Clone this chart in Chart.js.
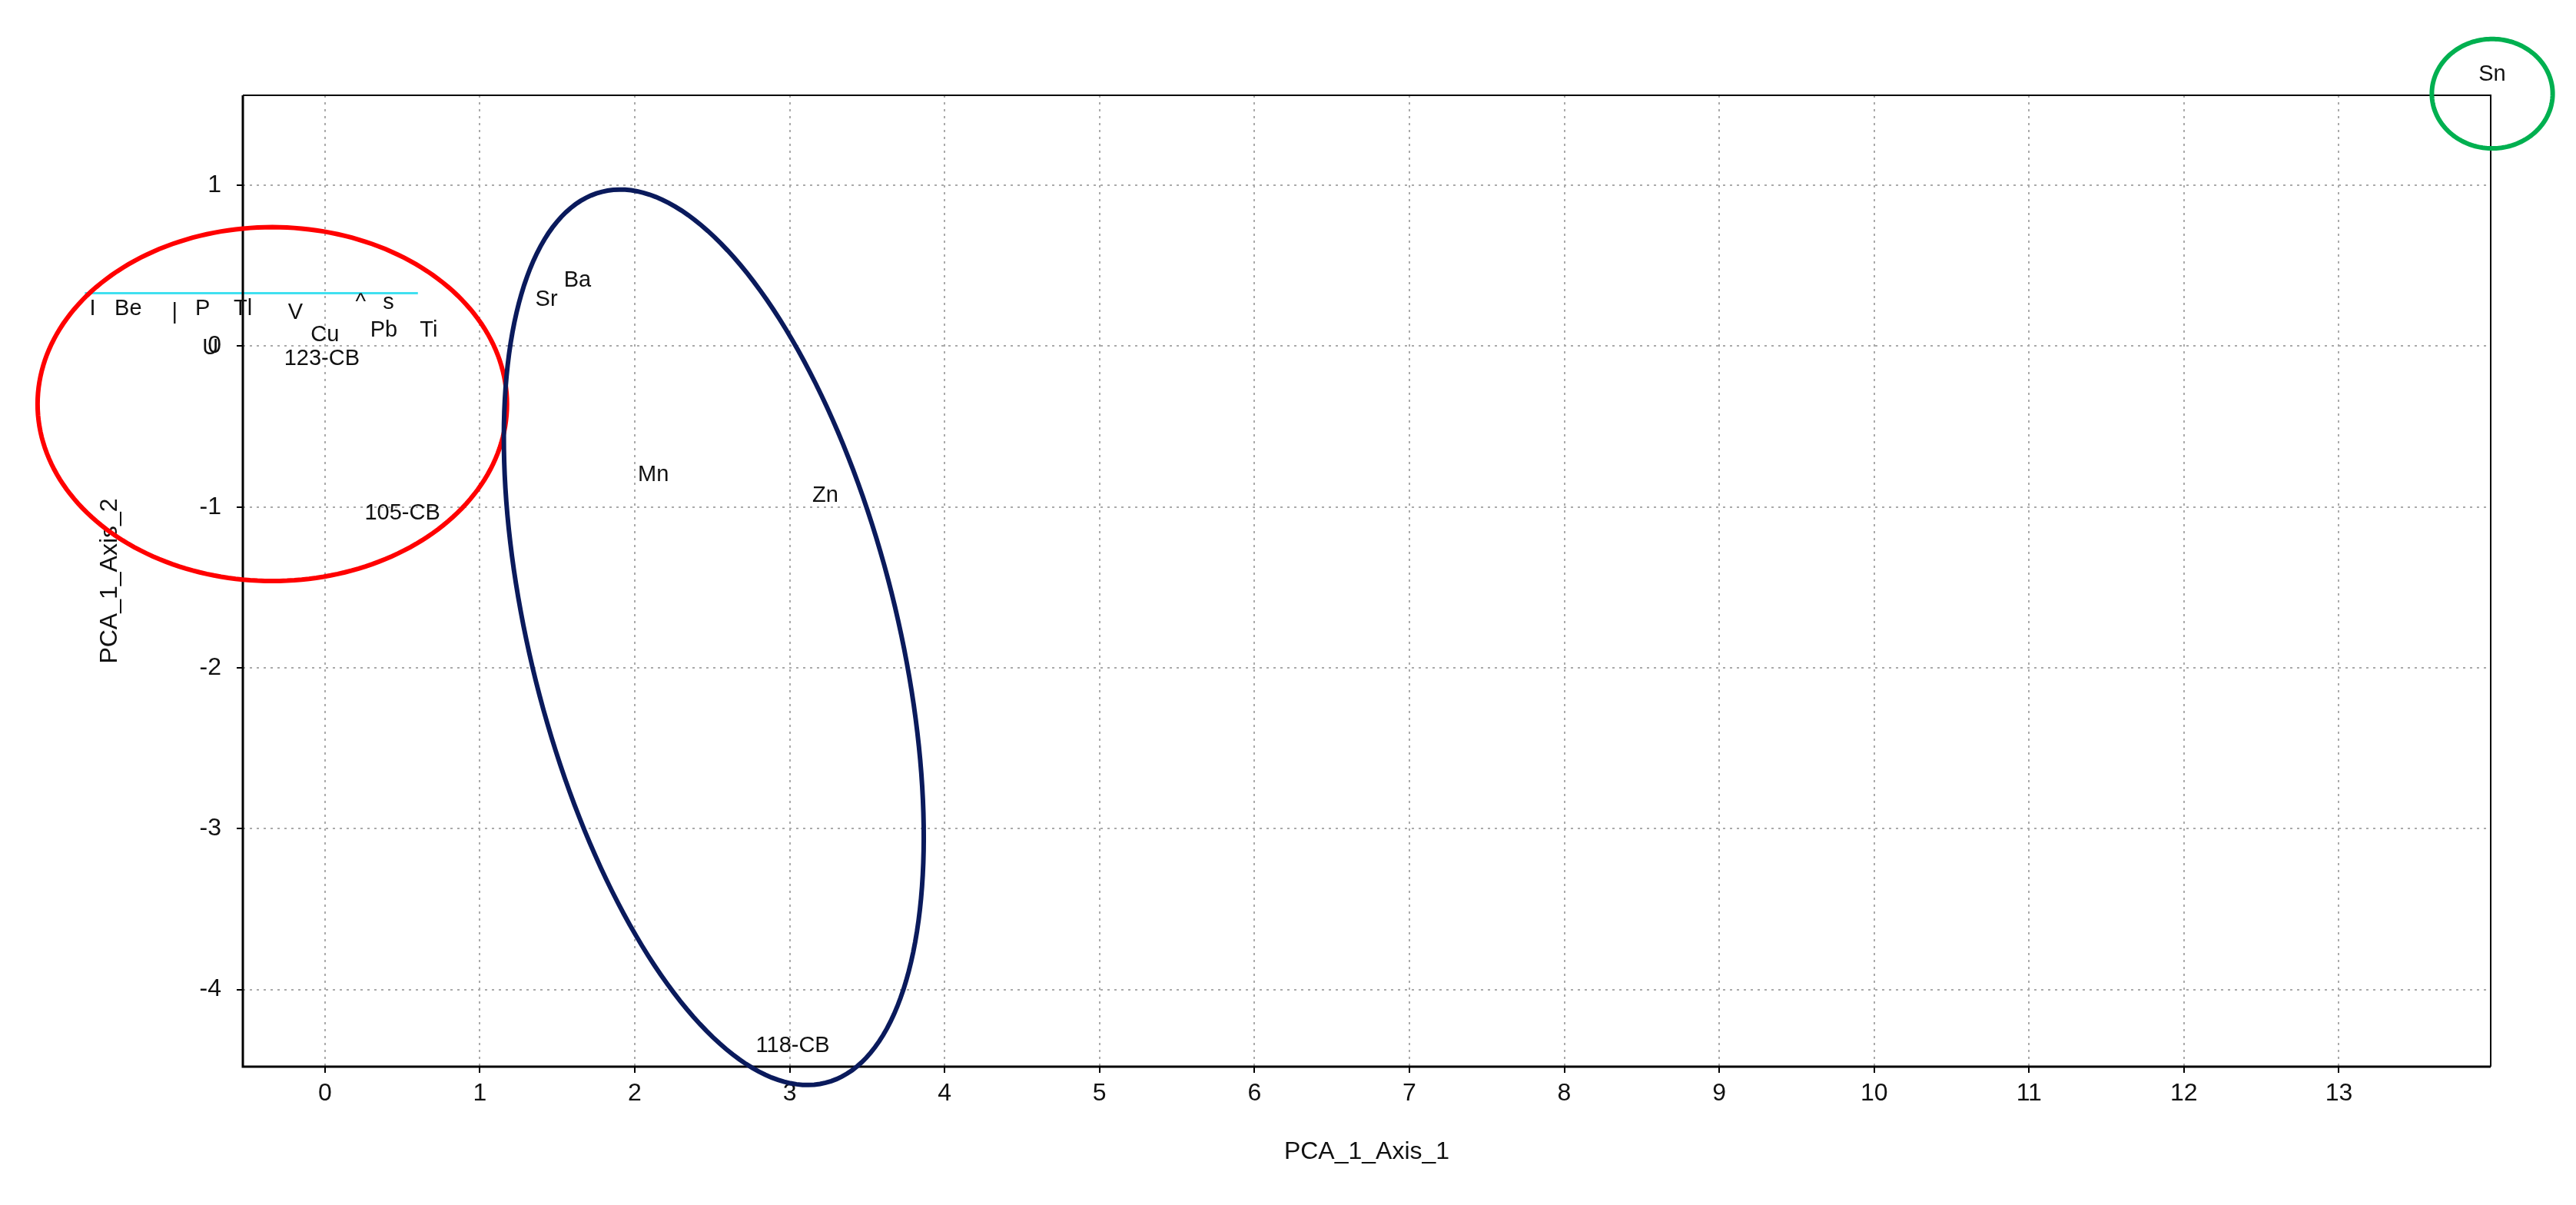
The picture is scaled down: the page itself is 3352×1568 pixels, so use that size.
<!DOCTYPE html>
<html><head><meta charset="utf-8">
<script src="https://cdn.jsdelivr.net/npm/chart.js@4/dist/chart.umd.min.js"></script>
<style>html,body{margin:0;padding:0;background:#fff}#wrap{width:3352px;height:1568px}</style>
</head><body><div id="wrap"><canvas id="c"></canvas></div>
<script>
const labels = ["I","Be","|","P","Tl","V","^","s","Cu","Pb","Ti","U","123-CB","105-CB","Sr","Ba","Mn","Zn","118-CB","Sn"];
const xValues = [-1.50,-1.27,-0.97,-0.79,-0.53,-0.19,0.23,0.41,0.00,0.38,0.67,-0.74,-0.02,0.50,1.43,1.63,2.12,3.23,3.02,13.99];
const yValues = [0.23,0.23,0.21,0.23,0.23,0.21,0.27,0.27,0.07,0.10,0.10,-0.01,-0.08,-1.04,0.29,0.41,-0.80,-0.93,-4.35,1.69];
const xTicks = [0,1,2,3,4,5,6,7,8,9,10,11,12,13];
const yTicks = [-4,-3,-2,-1,0,1];
// ellipses: center, semi-axis vectors u and v (data units)
const ellipses = [
  {cx:-0.34, cy:-0.36, u:[1.515,0], v:[0,1.10], color:'#ff0000'},
  {cx:2.51, cy:-1.81, u:[-0.722,2.770], v:[1.147,0.278], color:'#0a1a5c'},
  {cx:13.99, cy:1.57, u:[0.39,0], v:[0,0.34], color:'#00b050'}
];
const cyanLine = [{x:-1.55,y:0.33},{x:0.6,y:0.33}];

const pts = xValues.map((x,i)=>({x, y:yValues[i], label:labels[i]}));

const overlay = {
  id:'overlay',
  afterDatasetsDraw(chart){
    const {ctx, chartArea:a, scales:{x,y}} = chart;
    ctx.save();
    ctx.strokeStyle='#000'; ctx.lineWidth=3;
    ctx.beginPath(); ctx.moveTo(a.left,a.top); ctx.lineTo(a.left,a.bottom); ctx.lineTo(a.right,a.bottom); ctx.stroke();
    ctx.lineWidth=2; ctx.beginPath(); ctx.moveTo(a.left,a.top); ctx.lineTo(a.right,a.top); ctx.lineTo(a.right,a.bottom); ctx.stroke();
    ctx.font='29px "Liberation Sans", Arial, sans-serif';
    ctx.fillStyle='#111'; ctx.textAlign='center'; ctx.textBaseline='middle';
    pts.forEach(p=>ctx.fillText(p.label, x.getPixelForValue(p.x), y.getPixelForValue(p.y)));
    ctx.lineWidth=6;
    ellipses.forEach(e=>{
      ctx.strokeStyle=e.color; ctx.beginPath();
      for(let i=0;i<=200;i++){
        const t=i/200*2*Math.PI;
        const dx=e.cx+e.u[0]*Math.cos(t)+e.v[0]*Math.sin(t);
        const dy=e.cy+e.u[1]*Math.cos(t)+e.v[1]*Math.sin(t);
        const px=x.getPixelForValue(dx), py=y.getPixelForValue(dy);
        i?ctx.lineTo(px,py):ctx.moveTo(px,py);
      }
      ctx.closePath(); ctx.stroke();
    });
    ctx.restore();
  }
};

const intTicks = list => function(scale){ scale.ticks = list.map(v=>({value:v})); };

new Chart(document.getElementById('c'), {
  type:'scatter',
  data:{datasets:[
    {data:pts, pointRadius:0, showLine:false},
    {data:cyanLine, showLine:true, borderColor:'#40e0f0', borderWidth:3, pointRadius:0, clip:false}
  ]},
  options:{
    responsive:true, maintainAspectRatio:false, animation:false, devicePixelRatio:1,
    layout:{padding:{top:124,right:111,left:0,bottom:0}},
    plugins:{legend:{display:false}, tooltip:{enabled:false}},
    scales:{
      x:{type:'linear', min:-0.53, max:13.98, afterBuildTicks:intTicks(xTicks),
        afterFit(s){s.height=180;},
        grid:{color:'#aaa', lineWidth:2, drawTicks:true, tickLength:8, tickColor:'#000'},
        border:{display:false, dash:[3,6]},
        ticks:{color:'#111', font:{size:32, family:'"Liberation Sans", Arial'}, padding:8},
        title:{display:true, text:'PCA_1_Axis_1', color:'#111', font:{size:32, family:'"Liberation Sans", Arial'}, padding:{top:0,bottom:50}}
      },
      y:{type:'linear', min:-4.48, max:1.56, afterBuildTicks:intTicks(yTicks),
        afterFit(s){s.width=316;},
        grid:{color:'#aaa', lineWidth:2, tickLength:8, tickColor:'#000'},
        border:{display:false, dash:[3,6]},
        ticks:{color:'#111', font:{size:32, family:'"Liberation Sans", Arial'}, padding:20},
        title:{display:true, text:'PCA_1_Axis_2', color:'#111', font:{size:32, family:'"Liberation Sans", Arial'}, padding:{top:124,bottom:0}}
      }
    }
  },
  plugins:[overlay]
});
</script></body></html>
